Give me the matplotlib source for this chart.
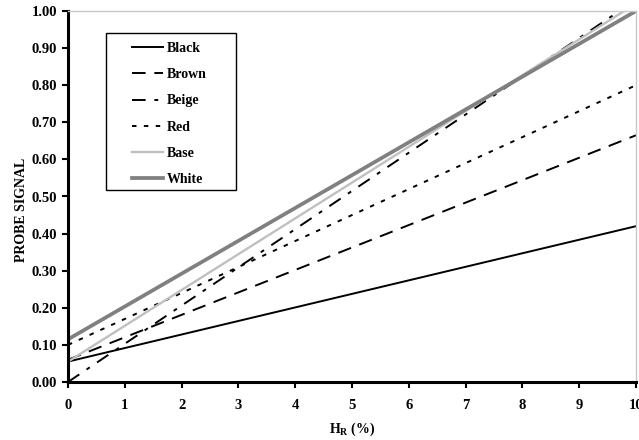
import matplotlib
matplotlib.use("Agg")
import matplotlib.pyplot as plt
from matplotlib.patches import Rectangle

plt.rcParams['font.family'] = ['Liberation Serif', 'DejaVu Serif']
plt.rcParams['font.weight'] = 'bold'
plt.rcParams['mathtext.fontset'] = 'custom'
plt.rcParams['mathtext.rm'] = 'Liberation Serif:bold'
plt.rcParams['mathtext.it'] = 'Liberation Serif:bold'
plt.rcParams['mathtext.bf'] = 'Liberation Serif:bold'

# Data
hr = [0, 10]
black = [0.055, 0.42]
brown = [0.06, 0.665]
beige = [0.0, 1.03]
red = [0.10, 0.80]
base = [0.055, 1.02]
white = [0.115, 1.0]

x_ticks = list(range(0, 11))
y_ticks = [round(0.1 * i, 2) for i in range(11)]

fig = plt.figure(figsize=(6.39, 4.40), dpi=100)
ax = fig.add_axes([68/639, 1 - 382/440, (636-68)/639, (382-11)/440])

ax.plot(hr, black, color='black', lw=1.4, label='Black')
ax.plot(hr, brown, color='black', lw=1.4, dashes=(7, 4.5), label='Brown')
ax.plot(hr, beige, color='black', lw=1.4, dashes=(7, 4.5, 2, 4.5), label='Beige')
ax.plot(hr, red, color='black', lw=1.4, dashes=(2.3, 3.8), label='Red')
ax.plot(hr, base, color='#c0c0c0', lw=1.7, label='Base')
ax.plot(hr, white, color='#808080', lw=2.7, label='White')

ax.set_xlim(0, 10)
ax.set_ylim(0, 1.0)
ax.set_xticks(x_ticks)
ax.set_yticks(y_ticks)
ax.set_yticklabels([f"{v:.2f}" for v in y_ticks])
ax.tick_params(axis='y', direction='out', length=4, width=1.5, labelsize=10.5, pad=4)
ax.tick_params(axis='x', direction='out', length=4, width=1.5, labelsize=10.5, pad=8)

for s in ['left', 'bottom']:
    ax.spines[s].set_linewidth(2.2)
    ax.spines[s].set_color('black')
for s in ['top', 'right']:
    ax.spines[s].set_linewidth(1.0)
    ax.spines[s].set_color('#c8c8c8')

ax.set_ylabel('PROBE SIGNAL', fontsize=10, fontweight='bold')
ax.yaxis.set_label_coords(-0.07, 0.465)
ax.set_xlabel(r'H$_{\mathregular{R}}$ (%)', fontsize=10, fontweight='bold')
ax.xaxis.set_label_coords(0.5, -0.105)

# legend frame
x0, x1 = (106-68)/568, (236-68)/568
y0, y1 = (382-190)/371, (382-33)/371
ax.add_patch(Rectangle((x0, y0), x1 - x0, y1 - y0, transform=ax.transAxes,
                       facecolor='white', edgecolor='black', lw=1.0, zorder=5))

leg = ax.legend(loc='upper left', bbox_to_anchor=((132-68)/568, (382-42)/371), borderaxespad=0,
                frameon=False, fontsize=10, borderpad=0,
                handlelength=2.25, handletextpad=0.25, labelspacing=0.95)
leg.set_zorder(6)

fig.savefig('out.png', dpi=100)
